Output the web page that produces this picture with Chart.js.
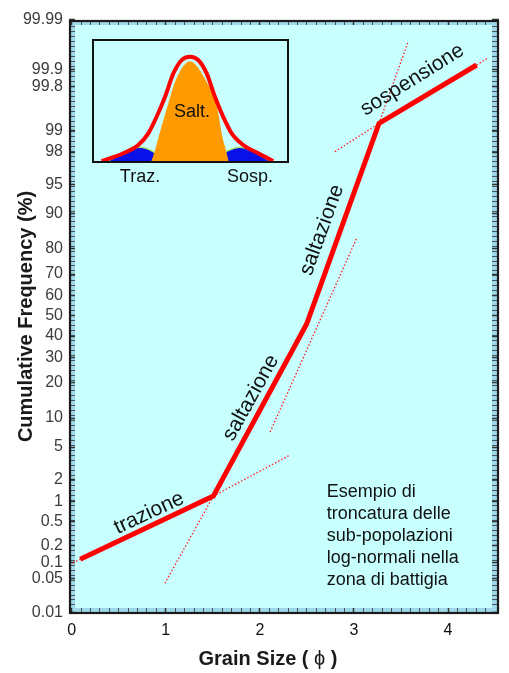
<!DOCTYPE html>
<html><head><meta charset="utf-8">
<script src="https://cdn.jsdelivr.net/npm/chart.js@4.4.1/dist/chart.umd.min.js"></script>
<style>
html,body{margin:0;padding:0;background:#fff;}
#wrap{position:relative;width:509px;height:673px;overflow:hidden;font-family:"Liberation Sans",Arial,sans-serif;}
#main{position:absolute;left:0;top:0;}
#insetBox{position:absolute;left:92px;top:39px;width:197px;height:124px;}
#insetFrame{position:absolute;left:92px;top:39px;width:197px;height:124px;box-sizing:border-box;border:2px solid #111;pointer-events:none;}
.lbl{position:absolute;font-size:18px;line-height:18px;color:#111;transform:translate(-50%,-50%);white-space:nowrap;}
</style></head><body>
<div id="wrap">
<canvas id="main" width="509" height="673"></canvas>
<div id="insetBox"><canvas id="inset" width="197" height="124"></canvas></div>
<div id="insetFrame"></div>
<div class="lbl" style="left:192px;top:111px">Salt.</div>
<div class="lbl" style="left:140px;top:176px">Traz.</div>
<div class="lbl" style="left:250px;top:176px">Sosp.</div>
</div>
<script>
// ---------- DATA ----------
// cumulative grading curve: break points (grain size phi, cumulative %)
const breakPhi = [0.09, 1.505, 2.497, 3.266, 4.304];
const breakPct = [0.114, 1.19, 45.9, 99.21, 99.917];
// dotted sub-population trend lines (start/end)
const guidePhiStart = [0.014, 1.505, 0.99, 2.109, 2.798, 3.266, 4.304];
const guidePhiEnd   = [0.09, 2.32, 1.505, 3.029, 3.266, 3.571, 4.424];
const guidePctStart = [0.097, 1.19, 0.040, 7.27, 98.02, 99.21, 99.917];
const guidePctEnd   = [0.114, 4.05, 1.19, 83.5, 99.21, 99.969, 99.939];
// segment labels
const segLabels = ['trazione', 'saltazione', 'saltazione', 'sospensione'];
const segLabelPhi = [0.822, 1.905, 2.66, 3.62];
const segLabelPct = [0.67, 15.2, 85.9, 99.845];
const segLabelAngle = [-25, -61, -70, -32];
// note
const noteLines = ['Esempio di', 'troncatura delle', 'sub-popolazioni', 'log-normali nella', 'zona di battigia'];
const notePhi = 2.71, notePct = 1.37;
// axis ticks and titles
const yTickValues = [0.01,0.05,0.1,0.2,0.5,1,2,5,10,20,30,40,50,60,70,80,90,95,98,99,99.8,99.9,99.99];
const yTickLabels = ['0.01','0.05','0.1','0.2','0.5','1','2','5','10','20','30','40','50','60','70','80','90','95','98','99','99.8','99.9','99.99'];
const xTickValues = [0,1,2,3,4];
const xTickLabels = ['0','1','2','3','4'];
const xTitleParts = ['Grain Size ( ', 'ϕ', ' )'];
const yTitle = 'Cumulative Frequency (%)';
// inset (schematic frequency curves), x: 0-100 across box, y: 0-100 height
const insetRedX = [4.9,15.9,23.5,28.6,32.8,37.1,41.3,45.5,49.7,53.9,58.2,62.4,66.6,70.9,76.8,84.4,92];
const insetRedY = [0.8,7.1,13.8,23.3,36.8,53.1,72,82.9,85.6,82.9,72,53.1,36.8,23.3,13.8,7.1,0.8];
const insetSaltX = [30.3,32.5,34,38.5,42.8,49.7,57.4,63.1,66,67.5,69.2];
const insetSaltY = [0,11,20,45,66.7,81.5,66.7,45,20,11,0];
const insetTrazX = [6.6,12,17,24.4,31,35,38.5];
const insetTrazY = [0,4,9,12,8.5,3.5,0];
const insetSospX = [57.4,62,68,75.1,82,87,91.2];
const insetSospY = [0,3.5,8.5,12,8.5,4,0];

// ---------- probability (probit) scale ----------
function probit(p){
  const a=[-3.969683028665376e+01,2.209460984245205e+02,-2.759285104469687e+02,1.383577518672690e+02,-3.066479806614716e+01,2.506628277459239e+00];
  const b=[-5.447609879822406e+01,1.615858368580409e+02,-1.556989798598866e+02,6.680131188771972e+01,-1.328068155288572e+01];
  const c=[-7.784894002430293e-03,-3.223964580411365e-01,-2.400758277161838e+00,-2.549732539343734e+00,4.374664141464968e+00,2.938163982698783e+00];
  const d=[7.784695709041462e-03,3.224671290700398e-01,2.445134137142996e+00,3.754408661907416e+00];
  const pl=0.02425, ph=1-pl; let q, r;
  if (p<=0) return -8; if (p>=1) return 8;
  if (p<pl){q=Math.sqrt(-2*Math.log(p));return (((((c[0]*q+c[1])*q+c[2])*q+c[3])*q+c[4])*q+c[5])/((((d[0]*q+d[1])*q+d[2])*q+d[3])*q+1);}
  if (p<=ph){q=p-0.5;r=q*q;return (((((a[0]*r+a[1])*r+a[2])*r+a[3])*r+a[4])*r+a[5])*q/(((((b[0]*r+b[1])*r+b[2])*r+b[3])*r+b[4])*r+1);}
  q=Math.sqrt(-2*Math.log(1-p));return -(((((c[0]*q+c[1])*q+c[2])*q+c[3])*q+c[4])*q+c[5])/((((d[0]*q+d[1])*q+d[2])*q+d[3])*q+1);
}
function normCdf(z){
  const t=1/(1+0.2316419*Math.abs(z));
  const y=t*(0.319381530+t*(-0.356563782+t*(1.781477937+t*(-1.821255978+t*1.330274429))));
  const p=1-Math.exp(-z*z/2)/Math.sqrt(2*Math.PI)*y;
  return z>=0?p:1-p;
}
// minor ruler ticks (decorative)
const yMinor = [];
for (let z=-3.625; z<3.65; z+=0.0625) yMinor.push(100*normCdf(z));
const yTicksAll = yTickValues.map(v=>({value:v, major:true})).concat(yMinor.map(v=>({value:v, major:false}))).sort((a,b)=>a.value-b.value);
const xTicksAll = [];
for (let i=0;i<=44;i++){ const v=i/10; xTicksAll.push({value:v, major: i%10===0}); }

class ProbitScale extends Chart.Scale {
  parse(raw){ return (raw===null||raw===undefined)?null:+raw; }
  determineDataLimits(){ const {min,max}=this.getUserBounds(); this.min=min; this.max=max; }
  buildTicks(){ return yTicksAll.map(t=>({value:t.value, major:t.major})); }
  getLabelForValue(v){ return String(v); }
  configure(){ super.configure(); this._zMin=probit(this.min/100); this._zMax=probit(this.max/100); }
  getPixelForValue(v){ return this.getPixelForDecimal((probit(v/100)-this._zMin)/(this._zMax-this._zMin)); }
  getValueForPixel(px){ const dd=this.getDecimalForPixel(px); return 100*normCdf(this._zMin+dd*(this._zMax-this._zMin)); }
}
ProbitScale.id = 'probit';
ProbitScale.defaults = {};
Chart.register(ProbitScale);

const FAM = '"Liberation Sans", Arial, sans-serif';
Chart.defaults.font.family = FAM;

const framePlugin = {
  id:'frame',
  beforeDraw(chart){
    const {ctx, chartArea:a} = chart;
    ctx.save();
    ctx.fillStyle = '#9fd8ea';
    ctx.fillRect(69, 20, 430, 594);
    ctx.fillStyle = '#c8ffff';
    ctx.fillRect(a.left, a.top, a.right-a.left, a.bottom-a.top);
    ctx.restore();
  },
  afterDraw(chart){
    const {ctx} = chart;
    ctx.save();
    ctx.strokeStyle = '#1a1a1a';
    ctx.lineWidth = 2.2;
    ctx.strokeRect(70, 21, 428, 592);
    // x-axis title (bold text, regular phi)
    const fB = 'bold 20px ' + FAM, fR = '20px ' + FAM;
    const fonts = [fB, fR, fB];
    let w = 0; const ws = xTitleParts.map((t,i)=>{ ctx.font = fonts[i]; const m = ctx.measureText(t).width; w += m; return m; });
    let cx = 268 - w/2;
    ctx.fillStyle = '#1a1a1a'; ctx.textBaseline = 'middle'; ctx.textAlign = 'left';
    xTitleParts.forEach((t,i)=>{ ctx.font = fonts[i]; ctx.fillText(t, cx, 659); cx += ws[i]; });
    ctx.restore();
  }
};
const annoPlugin = {
  id:'anno',
  afterDatasetsDraw(chart){
    const {ctx, scales:{x, y}} = chart;
    ctx.save();
    ctx.fillStyle = '#111';
    ctx.font = '21px ' + FAM;
    ctx.textAlign = 'center'; ctx.textBaseline = 'middle';
    segLabels.forEach((t,i)=>{
      ctx.save();
      ctx.translate(x.getPixelForValue(segLabelPhi[i]), y.getPixelForValue(segLabelPct[i]));
      ctx.rotate(segLabelAngle[i]*Math.PI/180);
      ctx.fillText(t,0,0);
      ctx.restore();
    });
    ctx.font = '18px ' + FAM;
    ctx.textAlign = 'left';
    const nx = x.getPixelForValue(notePhi), ny = y.getPixelForValue(notePct);
    noteLines.forEach((ln,i)=>ctx.fillText(ln, nx, ny + i*22));
    ctx.restore();
  }
};

const datasets = [{
  data: breakPhi.map((v,i)=>({x:v, y:breakPct[i]})),
  borderColor:'#ff0000', borderWidth:5, pointRadius:0, fill:false, tension:0,
  borderJoinStyle:'miter', borderCapStyle:'butt', clip:false, order:0
}];
guidePhiStart.forEach((v,i)=>{
  datasets.push({
    data:[{x:v, y:guidePctStart[i]}, {x:guidePhiEnd[i], y:guidePctEnd[i]}],
    borderColor:'#ff2020', borderWidth:1.3, borderDash:[1.5,2], pointRadius:0, fill:false, tension:0, clip:false, order:1
  });
});

const tickW = c => (c.tick && c.tick.major) ? 1.5 : 0.8;
const yMin = 0.01247, yMax = 99.98671, xMin = 0.035, xMax = 4.467;

new Chart(document.getElementById('main'), {
  type:'line',
  data:{datasets},
  options:{
    responsive:false, animation:false, devicePixelRatio:1, events:[],
    layout:{padding:0},
    plugins:{legend:{display:false}, tooltip:{enabled:false}},
    scales:{
      x:{type:'linear', position:'bottom', min:xMin, max:xMax,
        afterBuildTicks:s=>{ s.ticks = xTicksAll.map(t=>({value:t.value, major:t.major})); },
        afterFit:s=>{ s.height = 65; },
        grid:{drawOnChartArea:false, drawTicks:true, tickLength:5, tickColor:'#333', tickWidth:tickW},
        border:{display:false},
        ticks:{autoSkip:false, maxRotation:0, padding:8, color:'#111', font:{size:16},
          callback:(v,i,ts)=>{ if(!ts[i].major) return ''; const k=xTickValues.indexOf(Math.round(v)); return k>=0?xTickLabels[k]:''; }},
        title:{display:false}
      },
      x2:{type:'linear', position:'top', min:xMin, max:xMax,
        afterBuildTicks:s=>{ s.ticks = xTicksAll.map(t=>({value:t.value, major:t.major})); },
        afterFit:s=>{ s.height = 25; },
        grid:{drawOnChartArea:false, drawTicks:true, tickLength:5, tickColor:'#333', tickWidth:tickW},
        border:{display:false}, ticks:{display:false}
      },
      y:{type:'probit', position:'left', min:yMin, max:yMax,
        afterFit:s=>{ s.width = 75; },
        grid:{drawOnChartArea:false, drawTicks:true, tickLength:6, tickColor:'#333', tickWidth:tickW},
        border:{display:false},
        ticks:{autoSkip:false, padding:6, color:'#3c3c3c', font:{size:16},
          callback:(v,i,ts)=>{ if(!ts[i].major) return ''; const k=yTickValues.indexOf(v); return k>=0?yTickLabels[k]:''; }},
        title:{display:true, text:yTitle, color:'#1a1a1a', font:{size:20, weight:'bold'}, padding:{top:14,bottom:0}}
      },
      y2:{type:'probit', position:'right', min:yMin, max:yMax,
        afterFit:s=>{ s.width = 17; },
        grid:{drawOnChartArea:false, drawTicks:true, tickLength:7, tickColor:'#333', tickWidth:tickW},
        border:{display:false}, ticks:{display:false}
      }
    }
  },
  plugins:[framePlugin, annoPlugin]
});

// ---------- inset ----------
const pts = (xs, ys) => xs.map((v,i)=>({x:v, y:ys[i]}));
new Chart(document.getElementById('inset'), {
  type:'line',
  data:{datasets:[
    {data:pts(insetRedX, insetRedY), borderColor:'#ff0000', borderWidth:4, fill:false, pointRadius:0, cubicInterpolationMode:'monotone', order:0, clip:false},
    {data:pts(insetSaltX, insetSaltY), borderColor:'#ff9a00', borderWidth:1, backgroundColor:'#ff9a00', fill:'origin', pointRadius:0, cubicInterpolationMode:'monotone', order:1},
    {data:pts(insetTrazX, insetTrazY), borderColor:'#a8e860', borderWidth:1.5, backgroundColor:'#0a10e8', fill:'origin', pointRadius:0, cubicInterpolationMode:'monotone', order:2},
    {data:pts(insetSospX, insetSospY), borderColor:'#a8e860', borderWidth:1.5, backgroundColor:'#0a10e8', fill:'origin', pointRadius:0, cubicInterpolationMode:'monotone', order:2}
  ]},
  options:{
    responsive:false, animation:false, devicePixelRatio:1, events:[],
    layout:{padding:0},
    plugins:{legend:{display:false}, tooltip:{enabled:false}},
    scales:{
      x:{type:'linear', min:0, max:100, display:false},
      y:{type:'linear', min:-0.8, max:100, display:false}
    }
  }
});
</script>
</body></html>
